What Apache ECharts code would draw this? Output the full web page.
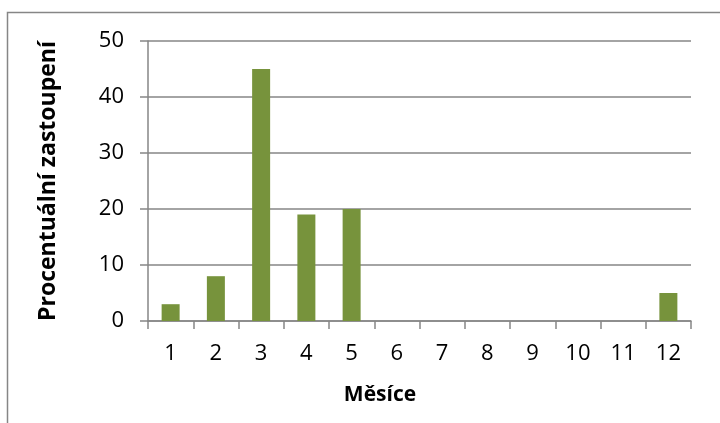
<!DOCTYPE html>
<html>
<head>
<meta charset="utf-8">
<script src="https://cdn.jsdelivr.net/npm/echarts@6/dist/echarts.min.js"></script>
<style>
  html, body { margin: 0; padding: 0; background: #fff; }
  #chart { width: 720px; height: 423px; }
</style>
</head>
<body>
<div id="chart"></div>
<script>
// Months of the year and share (%) per month
const months = ['1', '2', '3', '4', '5', '6', '7', '8', '9', '10', '11', '12'];
const shares = [3, 8, 45, 19, 20, 0, 0, 0, 0, 0, 0, 5];
const yTicks = { min: 0, max: 50, interval: 10 };
const xTitle = 'Měsíce';
const yTitle = 'Procentuální zastoupení';

const gridColor = '#868686';
const font = '"Open Sans", "DejaVu Sans", sans-serif';

const chart = echarts.init(document.getElementById('chart'), null, { renderer: 'canvas' });
chart.setOption({
  animation: false,
  backgroundColor: '#ffffff',
  graphic: [{
    type: 'rect',
    shape: { x: 7.5, y: 12.5, width: 730, height: 430 },
    style: { fill: 'none', stroke: gridColor, lineWidth: 1.5 },
    z: 0
  }, {
    type: 'text',
    x: 380, y: 395,
    style: { text: xTitle, font: 'bold 21px ' + font, fill: '#000', align: 'center', verticalAlign: 'middle' }
  }, {
    type: 'text',
    x: 48, y: 181,
    rotation: Math.PI / 2,
    style: { text: yTitle, font: 'bold 23px ' + font, fill: '#000', align: 'center', verticalAlign: 'middle' }
  }],
  grid: { left: 148, right: 29, top: 41, bottom: 102 },
  xAxis: {
    type: 'category',
    data: months,
    axisLine: { lineStyle: { color: gridColor, width: 1.5 } },
    axisTick: { show: true, length: 8, lineStyle: { color: gridColor, width: 1.5 } },
    axisLabel: { fontFamily: font, fontSize: 22, color: '#000', margin: 22 }
  },
  yAxis: {
    type: 'value',
    min: yTicks.min,
    max: yTicks.max,
    interval: yTicks.interval,
    axisLine: { show: true, lineStyle: { color: gridColor, width: 1.5 } },
    axisTick: { show: true, length: 8, lineStyle: { color: gridColor, width: 1.5 } },
    axisLabel: { fontFamily: font, fontSize: 22, color: '#000', margin: 24 },
    splitLine: { lineStyle: { color: gridColor, width: 1.5 } }
  },
  series: [{
    type: 'bar',
    data: shares,
    barWidth: 18,
    itemStyle: { color: '#77933C' }
  }]
});
</script>
</body>
</html>
